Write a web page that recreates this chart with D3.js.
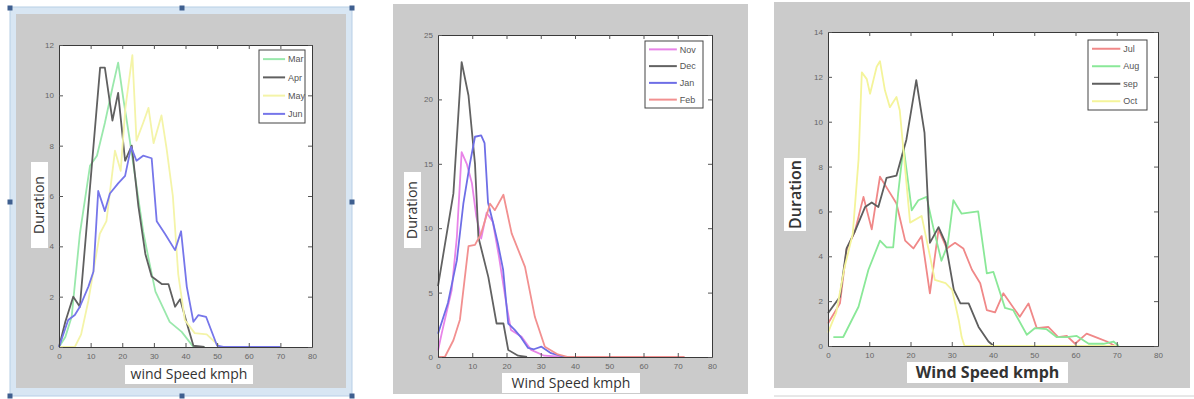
<!DOCTYPE html>
<html>
<head>
<meta charset="utf-8">
<script src="https://cdn.jsdelivr.net/npm/d3@7"></script>
<style>
  body { margin: 0; background: #fff; }
  svg { display: block; }
</style>
</head>
<body>
<svg id="chart" width="1194" height="399"></svg>
<script>
// tick labels
const xTicks = [0, 10, 20, 30, 40, 50, 60, 70, 80];
const yTicks1 = [0, 2, 4, 6, 8, 10, 12];
const yTicks2 = [0, 5, 10, 15, 20, 25];
const yTicks3 = [0, 2, 4, 6, 8, 10, 12, 14];

// panel 1 : [wind speed kmph, duration]
const mar = [[0,0],[2,0.4],[4,1.2],[6.6,4.5],[9.8,7.2],[12,7.6],[14.5,8.9],[16.9,10.3],[18.7,11.3],[20.3,9.9],[22.4,8.2],[24.5,6.4],[26.6,4.6],[28.5,3.4],[30.5,2.2],[32,1.8],[35,1.0],[38.8,0.6],[42.5,0],[46,0]];
const apr = [[0,0],[2,1.0],[4.5,2.0],[6.6,1.6],[13,11.1],[14.5,11.1],[16.9,9.0],[18.7,10.1],[20.9,7.4],[23,8.0],[25.1,5.6],[27.3,3.7],[29.3,2.8],[32.5,2.5],[34.6,2.5],[36.7,1.6],[38.3,1.9],[40.4,0.95],[42.5,0.05],[46,0]];
const may = [[0,0],[5,0],[7,0.5],[9.3,1.85],[12.9,4.5],[15,5.0],[17.7,7.8],[19.5,7.0],[21,9.5],[23.2,11.6],[24.5,8.2],[26.6,8.9],[28.3,9.5],[29.9,8.1],[32.4,9.2],[34,7.9],[36,6.0],[37.7,2.9],[39.8,1.07],[42.9,0.55],[46.7,0.5],[51,0]];
const jun = [[0,0],[2.9,1.07],[5,1.27],[6.6,1.6],[9.3,2.4],[10.9,3.0],[12.4,6.2],[14.5,5.4],[16.1,6.1],[18.7,6.5],[20.9,6.8],[22.8,7.95],[24.5,7.4],[26.6,7.6],[29.3,7.5],[30.9,5.0],[33.5,4.5],[36.7,3.85],[38.6,4.6],[40.4,2.4],[42.5,1.0],[44.1,1.27],[46.5,1.2],[50,0.05],[52,0],[70,0]];

// panel 2
const nov = [[0,0.5],[1.1,1.85],[4,5.2],[5.5,9.3],[6.9,15.9],[8.4,15.0],[9.9,13.5],[11.2,10.9],[12.6,9.2],[14.2,11.2],[16,10.5],[17.8,7.8],[19.9,4.2],[21.3,2.1],[24.3,1.6],[27.2,0.55],[31,0.1],[37,0]];
const dec = [[0,5.5],[4.5,12.7],[6.9,22.9],[8.9,20.3],[10.8,15.0],[11.8,9.3],[14.7,6.2],[17.1,2.6],[19.1,2.6],[20.5,0.55],[23.4,0.1],[26,0]];
const jan = [[0,1.8],[2.9,4.2],[5.5,7.5],[7.4,11.9],[9.3,15.0],[10.8,17.1],[12.6,17.2],[13.6,16.6],[14.6,12.0],[16.1,10.4],[17.5,8.8],[19,6.8],[20.5,2.6],[22.4,2.1],[24.3,1.5],[26.3,0.7],[28,0.6],[30.2,0.8],[33,0.3],[37,0],[40,0]];
const feb = [[0,0],[2,0],[4.5,1.3],[6.4,2.9],[8.9,8.6],[10.8,8.7],[12.6,9.6],[15.2,11.9],[16.6,11.4],[19.1,12.6],[21.5,9.6],[25.4,7.0],[28.3,3.1],[31.2,0.8],[35,0.2],[38,0],[72,0]];

// panel 3
const jul = [[0,1.0],[2.9,1.9],[4.5,4.3],[6.5,5.1],[8.6,6.65],[10.6,5.2],[12.6,7.55],[14.6,6.95],[16.6,6.35],[18.7,4.7],[20.7,4.35],[22.7,4.9],[24.7,2.35],[26.8,5.2],[28.8,4.35],[30.8,4.6],[32.8,4.35],[34.9,3.4],[36.9,2.8],[38.5,1.6],[40.5,1.5],[42.5,2.35],[46.5,1.3],[48.6,1.9],[50.6,0.8],[53.4,0.85],[55.8,0.4],[57.9,0.45],[59.9,0.1],[62.7,0.55],[65.5,0.35],[67.6,0.2],[69.6,0]];
const aug = [[1.3,0.4],[3.7,0.4],[7.4,1.75],[9.8,3.4],[12.6,4.7],[14.2,4.4],[15.8,4.4],[17,6.8],[18.3,8.9],[20.3,6.05],[21.9,6.5],[23.9,6.65],[25.5,5.3],[27.5,3.8],[29,4.5],[30.4,6.5],[32.4,5.9],[36.4,6.0],[38.5,3.24],[40.1,3.3],[42.9,1.7],[44.9,1.6],[48.2,0.5],[50.2,0.8],[53,0.75],[55.4,0.4],[57.9,0.4],[60.3,0.45],[63.2,0.1],[66.8,0.1],[69.2,0.2],[70.5,0]];
const sep = [[0,1.46],[2.9,2.2],[4.5,4.35],[6.5,5.1],[9,6.2],[10.6,6.4],[12.2,6.2],[14.2,7.5],[16.6,7.6],[19,9.2],[21.4,11.85],[23.4,9.5],[24.7,4.6],[26.8,5.3],[28.5,4.6],[30.5,2.5],[32.1,1.9],[34.1,1.9],[36.5,0.85],[38.9,0.2],[40.2,0]];
const oct = [[0,0.6],[2,1.5],[4,3.5],[6,5.0],[7.4,8.3],[8.2,12.2],[9.4,11.9],[10.2,11.25],[11.8,12.45],[12.6,12.7],[13.8,11.4],[15,10.65],[16.6,11.1],[17.4,10.5],[19.9,5.5],[22.7,5.8],[25.9,2.95],[28.5,2.8],[30.1,2.5],[31.7,1.15],[32.4,0.4],[33.1,0],[70,0]];

const panels = [
  {
    bg: [16, 14, 346, 388], plot: [59, 45, 312, 347], yMax: 12, yTicks: yTicks1,
    xlabel: 'wind Speed kmph', xlabBox: [125, 365, 253, 384], xlabSize: 14, xlabWeight: 'normal',
    ylabBox: [31, 162, 48, 248], ylabSize: 14, ylabWeight: 'normal',
    legend: [259, 50, 305, 123],
    series: [
      { name: 'Mar', data: mar, color: '#9ae8ac' },
      { name: 'Apr', data: apr, color: '#606060' },
      { name: 'May', data: may, color: '#f4f4a8' },
      { name: 'Jun', data: jun, color: '#7676ea' }
    ]
  },
  {
    bg: [393, 4, 748, 394], plot: [438, 35, 712, 357], yMax: 25, yTicks: yTicks2,
    xlabel: 'Wind Speed kmph', xlabBox: [502, 373, 640, 393], xlabSize: 14, xlabWeight: 'normal',
    ylabBox: [404, 172, 421, 248], ylabSize: 14, ylabWeight: 'normal',
    legend: [645, 41, 703, 108],
    series: [
      { name: 'Nov', data: nov, color: '#e884e8' },
      { name: 'Dec', data: dec, color: '#626262' },
      { name: 'Jan', data: jan, color: '#6e6ee6' },
      { name: 'Feb', data: feb, color: '#f29090' }
    ]
  },
  {
    bg: [774, 2, 1190, 388], plot: [828, 32, 1158, 346], yMax: 14, yTicks: yTicks3,
    xlabel: 'Wind Speed kmph', xlabBox: [907, 362, 1068, 383], xlabSize: 16, xlabWeight: 'bold',
    ylabBox: [784, 158, 806, 231], ylabSize: 16, ylabWeight: '600',
    legend: [1088, 40, 1147, 110],
    series: [
      { name: 'Jul', data: jul, color: '#f08888' },
      { name: 'Aug', data: aug, color: '#8ae898' },
      { name: 'sep', data: sep, color: '#5e5e5e' },
      { name: 'Oct', data: oct, color: '#f4f49a' }
    ]
  }
];

const svg = d3.select('#chart');

// selection frame of the first picture
svg.append('rect').attr('x', 10).attr('y', 7).attr('width', 342).attr('height', 389)
  .attr('fill', '#d8e6f3').attr('stroke', '#b8cfe6');
const handles = [[10, 8], [182, 8], [352, 8], [10, 202], [352, 202], [10, 396], [182, 396], [352, 396]];
svg.selectAll('.handle').data(handles).join('rect')
  .attr('class', 'handle')
  .attr('x', d => d[0] - 2.5).attr('y', d => d[1] - 2.5)
  .attr('width', 5).attr('height', 5).attr('fill', '#3f5f8f');

// light frame line under third picture
svg.append('line').attr('x1', 774).attr('x2', 1194).attr('y1', 396).attr('y2', 396)
  .attr('stroke', '#d0d0d0');

panels.forEach(p => {
  const g = svg.append('g');
  g.append('rect')
    .attr('x', p.bg[0]).attr('y', p.bg[1])
    .attr('width', p.bg[2] - p.bg[0]).attr('height', p.bg[3] - p.bg[1])
    .attr('fill', '#cbcbcb');

  const x = d3.scaleLinear().domain([0, 80]).range([p.plot[0], p.plot[2]]);
  const y = d3.scaleLinear().domain([0, p.yMax]).range([p.plot[3], p.plot[1]]);

  g.append('rect')
    .attr('x', p.plot[0]).attr('y', p.plot[1])
    .attr('width', p.plot[2] - p.plot[0]).attr('height', p.plot[3] - p.plot[1])
    .attr('fill', '#fff');

  const line = d3.line().x(d => x(d[0])).y(d => y(d[1]));
  g.append('g').selectAll('path')
    .data(p.series).join('path')
    .attr('d', s => line(s.data))
    .attr('fill', 'none')
    .attr('stroke', s => s.color)
    .attr('stroke-width', 1.8)
    .attr('stroke-linejoin', 'round');

  // axes, ticks pointing inward like matlab
  const styleAxis = sel => {
    sel.select('.domain').attr('stroke', '#3a3a3a');
    sel.selectAll('.tick line').attr('stroke', '#555');
    sel.selectAll('text').attr('fill', '#666').style('font-family', 'Liberation Sans Narrow, Liberation Sans, sans-serif').style('font-size', '8px');
  };
  g.append('g').attr('transform', 'translate(0,' + p.plot[3] + ')')
    .call(d3.axisBottom(x).tickValues(xTicks).tickSizeInner(-4).tickSizeOuter(0).tickPadding(6))
    .call(styleAxis);
  g.append('g').attr('transform', 'translate(0,' + p.plot[1] + ')')
    .call(d3.axisTop(x).tickValues(xTicks).tickSizeInner(-4).tickSizeOuter(0).tickFormat(''))
    .call(styleAxis);
  g.append('g').attr('transform', 'translate(' + p.plot[0] + ',0)')
    .call(d3.axisLeft(y).tickValues(p.yTicks).tickSizeInner(-4).tickSizeOuter(0).tickPadding(5))
    .call(styleAxis);
  g.append('g').attr('transform', 'translate(' + p.plot[2] + ',0)')
    .call(d3.axisRight(y).tickValues(p.yTicks).tickSizeInner(-4).tickSizeOuter(0).tickFormat(''))
    .call(styleAxis);

  // legend
  const L = p.legend;
  g.append('rect').attr('x', L[0]).attr('y', L[1])
    .attr('width', L[2] - L[0]).attr('height', L[3] - L[1])
    .attr('fill', '#fff').attr('stroke', '#444');
  const step = (L[3] - L[1]) / p.series.length;
  const lw = (L[2] - L[0]) * 0.48;
  const items = g.append('g').selectAll('g').data(p.series).join('g')
    .attr('transform', (s, i) => 'translate(' + (L[0] + 4) + ',' + (L[1] + step * (i + 0.5)) + ')');
  items.append('line').attr('x1', 0).attr('x2', lw).attr('y1', 0).attr('y2', 0)
    .attr('stroke', s => s.color).attr('stroke-width', 2);
  items.append('text').attr('x', lw + 3).attr('y', 0).attr('dy', '0.35em')
    .attr('fill', '#555')
    .style('font-family', 'Liberation Sans Narrow, Liberation Sans, sans-serif')
    .style('font-size', '9px')
    .text(s => s.name);

  // axis labels in white boxes
  const xb = p.xlabBox;
  g.append('rect').attr('x', xb[0]).attr('y', xb[1])
    .attr('width', xb[2] - xb[0]).attr('height', xb[3] - xb[1]).attr('fill', '#fff');
  g.append('text')
    .attr('x', (xb[0] + xb[2]) / 2).attr('y', (xb[1] + xb[3]) / 2)
    .attr('dy', '0.35em').attr('text-anchor', 'middle')
    .attr('fill', '#333')
    .style('font-family', 'Open Sans, sans-serif')
    .style('font-size', p.xlabSize + 'px')
    .style('font-weight', p.xlabWeight)
    .text(p.xlabel);

  const yb = p.ylabBox;
  g.append('rect').attr('x', yb[0]).attr('y', yb[1])
    .attr('width', yb[2] - yb[0]).attr('height', yb[3] - yb[1]).attr('fill', '#fff');
  g.append('text')
    .attr('transform', 'translate(' + (yb[0] + yb[2]) / 2 + ',' + (yb[1] + yb[3]) / 2 + ') rotate(-90)')
    .attr('dy', '0.35em').attr('text-anchor', 'middle')
    .attr('fill', '#333')
    .style('font-family', 'Open Sans, sans-serif')
    .style('font-size', p.ylabSize + 'px')
    .style('font-weight', p.ylabWeight)
    .text('Duration');
});
</script>
</body>
</html>
